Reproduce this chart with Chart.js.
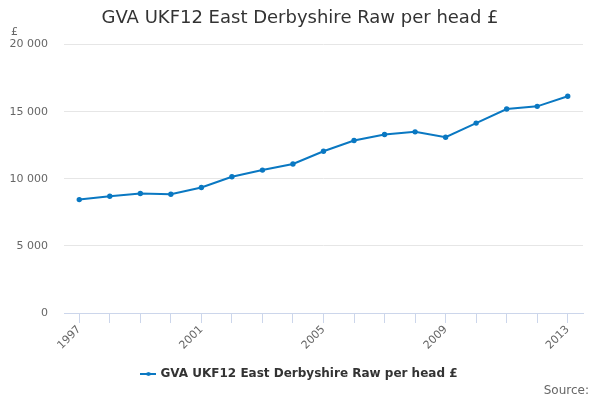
<!DOCTYPE html>
<html>
<head>
<meta charset="utf-8">
<script src="https://cdn.jsdelivr.net/npm/chart.js@4/dist/chart.umd.min.js"></script>
<style>
  html, body { margin: 0; padding: 0; background: #fff; }
  #wrap { position: relative; width: 600px; height: 400px; font-family: 'DejaVu Sans', sans-serif; }
  #unit { position: absolute; left: 11px; top: 25px; font-size: 11px; color: #666; }
  #source { position: absolute; right: 11px; top: 383px; font-size: 12px; color: #666; }
</style>
</head>
<body>
<div id="wrap">
  <canvas id="chart" width="600" height="400"></canvas>
  <div id="unit">£</div>
  <div id="source">Source:</div>
</div>
<script>
const years = ['1997','1998','1999','2000','2001','2002','2003','2004','2005','2006','2007','2008','2009','2010','2011','2012','2013'];
const gvaPerHead = [8450, 8700, 8900, 8850, 9350, 10150, 10650, 11100, 12050, 12850, 13300, 13500, 13100, 14150, 15200, 15400, 16150];
const seriesName = 'GVA UKF12 East Derbyshire Raw per head £';
const chartTitle = 'GVA UKF12 East Derbyshire Raw per head £';

const lineColor = '#0a78c2';
const font = 'DejaVu Sans';

// legend marker: short line with a dot in the middle
function legendMarker(){
  const c = document.createElement('canvas');
  c.width = 16; c.height = 8;
  const g = c.getContext('2d');
  g.strokeStyle = lineColor; g.lineWidth = 2;
  g.beginPath(); g.moveTo(0, 4); g.lineTo(16, 4); g.stroke();
  g.fillStyle = lineColor;
  g.beginPath(); g.arc(8, 4, 2, 0, Math.PI*2); g.fill();
  return c;
}

function fmtThousands(v){
  return String(v).replace(/\B(?=(\d{3})+(?!\d))/g, ' ');
}

new Chart(document.getElementById('chart'), {
  type: 'line',
  data: {
    labels: years,
    datasets: [{
      label: seriesName,
      data: gvaPerHead,
      borderColor: lineColor,
      backgroundColor: lineColor,
      borderWidth: 2,
      pointRadius: 1.7,
      pointHoverRadius: 3,
      pointStyle: 'circle',
      tension: 0
    }]
  },
  options: {
    responsive: false,
    animation: false,
    layout: { padding: { left: 0, right: 0, top: 0, bottom: 10 } },
    scales: {
      x: {
        offset: true,
        grid: { offset: false, drawOnChartArea: false, drawTicks: true, tickLength: 10, color: '#ccd6eb' },
        border: { color: '#ccd6eb' },
        ticks: {
          autoSkip: false,
          maxRotation: 45, minRotation: 45,
          color: '#666',
          font: { family: font, size: 11 },
          padding: 0,
          callback: function(v, i){ return (i % 4 === 0) ? years[i] : ''; }
        },
        afterFit: (axis) => { axis.height = 45; }
      },
      y: {
        min: 0, max: 20000,
        grid: { color: '#e6e6e6', drawTicks: false },
        border: { display: false },
        ticks: {
          stepSize: 5000,
          color: '#666',
          padding: 16,
          font: { family: font, size: 11 },
          callback: (v) => fmtThousands(v)
        },
        afterFit: (axis) => { axis.width = 64; }
      },
      // empty right-hand spacer so the title and legend stay centred on the page
      spacer: {
        type: 'linear',
        position: 'right',
        display: true,
        grid: { display: false },
        border: { display: false },
        ticks: { display: false },
        afterFit: (axis) => { axis.width = 17; }
      }
    },
    plugins: {
      title: {
        display: true,
        text: chartTitle,
        color: '#333',
        font: { family: font, size: 18, weight: 'normal' },
        padding: { top: 8, bottom: 15 }
      },
      legend: {
        position: 'bottom',
        labels: {
          color: '#333',
          font: { family: font, size: 12, weight: 'bold' },
          usePointStyle: true,
          pointStyle: legendMarker(),
          padding: 10
        }
      },
      tooltip: { enabled: false }
    }
  }
});
</script>
</body>
</html>
